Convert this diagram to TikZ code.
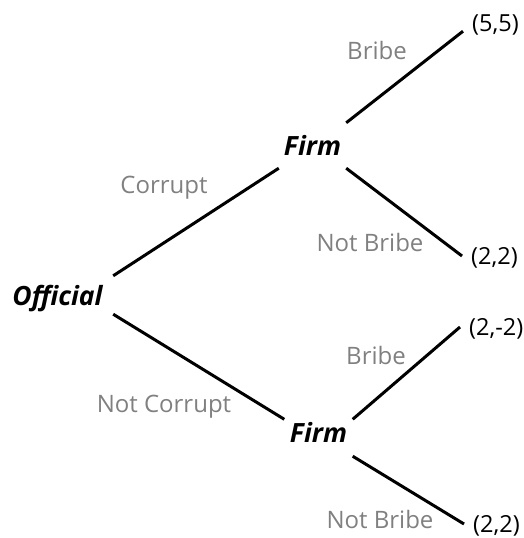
\documentclass[tikz,border=0pt]{standalone}
\usepackage{fontspec}
\setmainfont{Open Sans}
\begin{document}
\begin{tikzpicture}[
    x=1pt, y=-1pt,
    player/.style={font=\fontsize{26.5}{30}\selectfont\bfseries\itshape, inner sep=0pt, anchor=base},
    payoff/.style={font=\fontsize{23.5}{27}\selectfont, inner xsep=9pt, inner ysep=0pt, anchor=base west, text height=16pt, text depth=0pt},
    move/.style={font=\fontsize{24}{28}\selectfont, text=black!50, inner sep=0pt, anchor=base},
    branch/.style={line width=3pt}
]
    \useasboundingbox (0,0) rectangle (523,538);

    \node[player, minimum width=111pt, text height=29pt, text depth=9pt] (official) at (57.5,305) {Official};
    \node[player, minimum width=67pt, text height=32pt, text depth=13pt] (firmA) at (312.5,155) {Firm};
    \node[player, minimum width=68pt, text height=22.5pt, text depth=14pt] (firmB) at (318.5,442) {Firm};

    \node[payoff] (pay1) at (463,31) {(5,5)};
    \node[payoff] (pay2) at (462,264) {(2,2)};
    \node[payoff] (pay3) at (460,335) {(2,-2)};
    \node[payoff] (pay4) at (464,532) {(2,2)};

    \node[move] (corrupt) at (164,193) {Corrupt};
    \node[move] (notcorrupt) at (164,412) {Not Corrupt};
    \node[move] (bribeA) at (377,59) {Bribe};
    \node[move] (notbribeA) at (370,251) {Not Bribe};
    \node[move] (bribeB) at (376,364) {Bribe};
    \node[move] (notbribeB) at (380,528) {Not Bribe};

    \draw[branch] (official.north east) -- (firmA.south west);
    \draw[branch] (official.south east) -- (firmB.north west);
    \draw[branch] (firmA.north east) -- (pay1.south west);
    \draw[branch] (firmA.south east) -- (pay2.west);
    \draw[branch] (firmB.north east) -- (pay3.west);
    \draw[branch] (firmB.south east) -- (pay4.west);
\end{tikzpicture}
\end{document}
